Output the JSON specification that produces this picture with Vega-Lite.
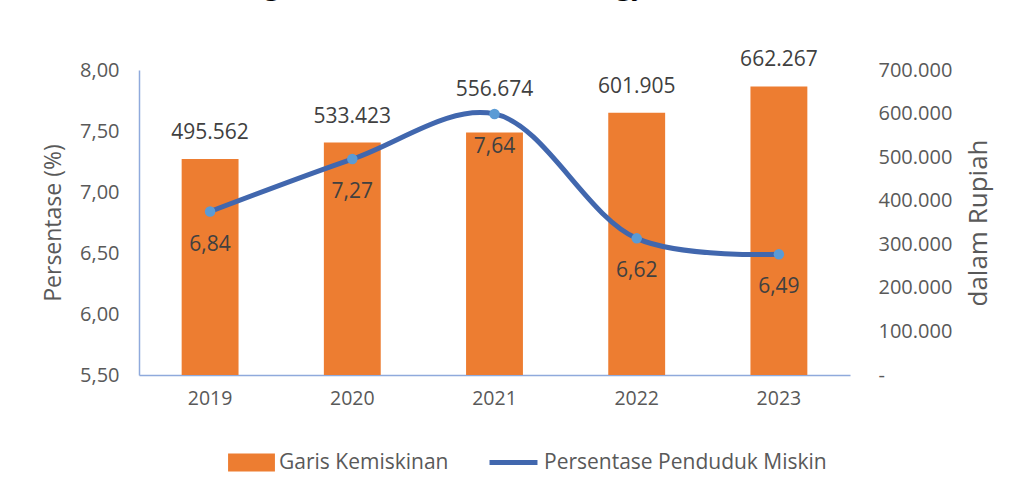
{
  "$schema": "https://vega.github.io/schema/vega-lite/v6.json",
  "width": 711,
  "height": 305,
  "autosize": {"type": "none"},
  "padding": {"left": 139, "top": 70, "right": 167, "bottom": 123},
  "background": "white",
  "config": {
    "view": {"stroke": null},
    "font": "Open Sans",
    "locale": {"number": {"decimal": ",", "thousands": ".", "grouping": [3], "currency": ["Rp", ""]}},
    "axis": {"labelFont": "Open Sans", "titleFont": "Open Sans", "labelColor": "#595959", "titleColor": "#595959", "grid": false, "ticks": false},
    "legend": {"labelFont": "Open Sans", "labelColor": "#595959", "labelFontSize": 21, "labelLimit": 400}
  },
  "title": {
    "text": "Tingkat Kemiskinan Kota Yogyakarta Tahun 2019 – 2023",
    "font": "Liberation Serif",
    "fontSize": 32,
    "fontWeight": "bold",
    "color": "#000000",
    "anchor": "start",
    "frame": "group",
    "dx": 77,
    "offset": 48
  },
  "data": {
    "values": [
      {"year": "2019", "garis": 495562, "persen": 6.84},
      {"year": "2020", "garis": 533423, "persen": 7.27},
      {"year": "2021", "garis": 556674, "persen": 7.64},
      {"year": "2022", "garis": 601905, "persen": 6.62},
      {"year": "2023", "garis": 662267, "persen": 6.49}
    ]
  },
  "encoding": {
    "x": {
      "field": "year",
      "type": "nominal",
      "scale": {"paddingInner": 0.6, "paddingOuter": 0.3},
      "axis": {"title": null, "labelAngle": 0, "labelFontSize": 19.5, "labelPadding": 14, "domainColor": "#8FAADC", "domainWidth": 1.5}
    }
  },
  "layer": [
    {
      "encoding": {
        "y": {
          "field": "garis",
          "type": "quantitative",
          "scale": {"domain": [0, 700000]},
          "axis": {
            "orient": "right",
            "title": "dalam  Rupiah",
            "titleAngle": -90,
            "titleBaseline": "top",
            "titleFontSize": 26,
            "titleFontWeight": "normal",
            "titlePadding": 14,
            "labelFontSize": 20,
            "labelPadding": 28,
            "domain": false,
            "values": [0, 100000, 200000, 300000, 400000, 500000, 600000, 700000],
            "labelExpr": "datum.value == 0 ? '-' : format(datum.value, ',')"
          }
        }
      },
      "layer": [
        {
          "mark": {"type": "bar"},
          "encoding": {
            "fill": {
              "datum": "Garis Kemiskinan",
              "scale": {"domain": ["Garis Kemiskinan"], "range": ["#ED7D31"]},
              "legend": {"title": null, "orient": "none", "legendX": 94, "legendY": 374, "symbolType": "M-1.3,-0.5H1.3V0.5H-1.3Z", "symbolSize": 1300, "symbolStrokeWidth": 0, "labelOffset": 9}
            }
          }
        },
        {
          "transform": [{"filter": "datum.year != '2021'"}],
          "mark": {"type": "text", "dy": -26, "fontSize": 21, "color": "#404040", "font": "Open Sans"},
          "encoding": {"text": {"field": "garis", "type": "quantitative", "format": ","}}
        },
        {
          "transform": [{"filter": "datum.year == '2021'"}],
          "mark": {"type": "text", "dy": -42, "fontSize": 21, "color": "#404040", "font": "Open Sans"},
          "encoding": {"text": {"field": "garis", "type": "quantitative", "format": ","}}
        }
      ]
    },
    {
      "encoding": {
        "y": {
          "field": "persen",
          "type": "quantitative",
          "scale": {"domain": [5.5, 8], "zero": false},
          "axis": {
            "orient": "left",
            "title": "Persentase (%)",
            "titleFontSize": 23,
            "titleFontWeight": "normal",
            "titlePadding": 14,
            "labelFontSize": 20,
            "labelPadding": 20,
            "domainColor": "#8FAADC",
            "domainWidth": 1.5,
            "values": [5.5, 6, 6.5, 7, 7.5, 8],
            "format": ".2f"
          }
        }
      },
      "layer": [
        {
          "mark": {"type": "line", "interpolate": "catmull-rom", "strokeWidth": 5},
          "encoding": {
            "stroke": {
              "datum": "Persentase Penduduk Miskin",
              "scale": {"domain": ["Persentase Penduduk Miskin"], "range": ["#4167AE"]},
              "legend": {"title": null, "orient": "none", "legendX": 348, "legendY": 366, "symbolType": "stroke", "symbolSize": 2300, "symbolStrokeWidth": 5, "labelOffset": 4}
            }
          }
        },
        {
          "mark": {"type": "point", "filled": true, "size": 110, "color": "#5B9BD5", "opacity": 1},
          "encoding": {}
        },
        {
          "mark": {"type": "text", "dy": 33, "fontSize": 21, "color": "#404040", "font": "Open Sans"},
          "encoding": {"text": {"field": "persen", "type": "quantitative", "format": ".2f"}}
        }
      ]
    }
  ],
  "resolve": {"scale": {"y": "independent", "fill": "independent", "stroke": "independent"}}
}
